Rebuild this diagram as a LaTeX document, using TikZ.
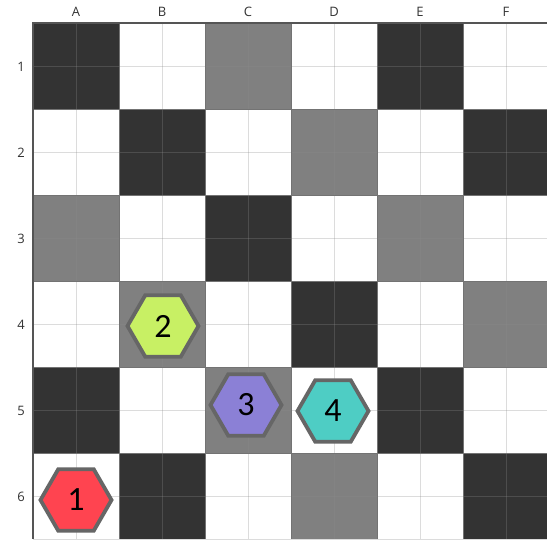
\documentclass[tikz,border=0pt]{standalone}
\usepackage{fontspec}
\setmainfont{Open Sans}
\newfontfamily\hexfont{Carlito}
\usetikzlibrary{shapes.geometric}
\definecolor{darkcell}{HTML}{333333}
\definecolor{midcell}{HTML}{808080}
\definecolor{bordgray}{HTML}{555555}
\definecolor{hexedge}{HTML}{666666}
\definecolor{hexred}{HTML}{FF4450}
\definecolor{hexlime}{HTML}{C8F064}
\definecolor{hexpurple}{HTML}{8B80D6}
\definecolor{hexteal}{HTML}{4ECDC4}
\tikzset{
  thinline/.style={draw=gray!90, opacity=0.3, line width=0.8pt},
  cellbord/.style={draw=black!55, line width=0.6pt},
  hexnode/.style={regular polygon, regular polygon sides=6, minimum size=71pt, inner sep=0pt, draw=hexedge, line width=3.8pt, font=\hexfont\fontsize{34}{34}\selectfont},
  axlabel/.style={font=\fontsize{13}{13}\selectfont, text=black!80}
}
\begin{document}
\begin{tikzpicture}[x=1pt,y=-1pt]
\useasboundingbox (0,0) rectangle (547,539);
\fill[white] (0,0) rectangle (547,539);
% cells: 0 white, 1 dark, 2 mid
\foreach \r/\rowcols in {0/{1,0,2,0,1,0},1/{0,1,0,2,0,1},2/{2,0,1,0,2,0},3/{0,2,0,1,0,2},4/{1,0,2,0,1,0},5/{0,1,0,2,0,1}}{
  \foreach \v [count=\c from 0] in \rowcols {
    \pgfmathsetmacro{\xa}{33+86*\c}
    \pgfmathsetmacro{\ya}{23+86*\r}
    \ifnum\v=1 \fill[darkcell] (\xa,\ya) rectangle ++(86,86); \fi
    \ifnum\v=2 \fill[midcell] (\xa,\ya) rectangle ++(86,86); \fi
  }
}
% half-cell grid lines
\foreach \i in {1,...,12}{
  \draw[thinline] (33+43*\i,23) -- (33+43*\i,539);
  \draw[thinline] (33,23+43*\i) -- (547,23+43*\i);
}
% cell borders
\foreach \i in {1,...,5}{
  \draw[cellbord] (33+86*\i,23) -- (33+86*\i,539);
  \draw[cellbord] (33,23+86*\i) -- (547,23+86*\i);
}
% outer border
\draw[bordgray, line width=1.8pt] (547,23) -- (33,23) -- (33,539);
% axis labels
\foreach \L [count=\c from 0] in {A,B,C,D,E,F}{
  \node[axlabel] (col\L) at (76+86*\c,12) {\L};
}
\foreach \n [count=\r from 0] in {1,...,6}{
  \node[axlabel] (row\n) at (21,67+86*\r) {\n};
}
% hexagons
\node[hexnode, fill=hexred] (h1) at (76,500) {1};
\node[hexnode, fill=hexlime] (h2) at (163,326) {2};
\node[hexnode, fill=hexpurple] (h3) at (246,405) {3};
\node[hexnode, fill=hexteal] (h4) at (333,411) {4};
\end{tikzpicture}
\end{document}
